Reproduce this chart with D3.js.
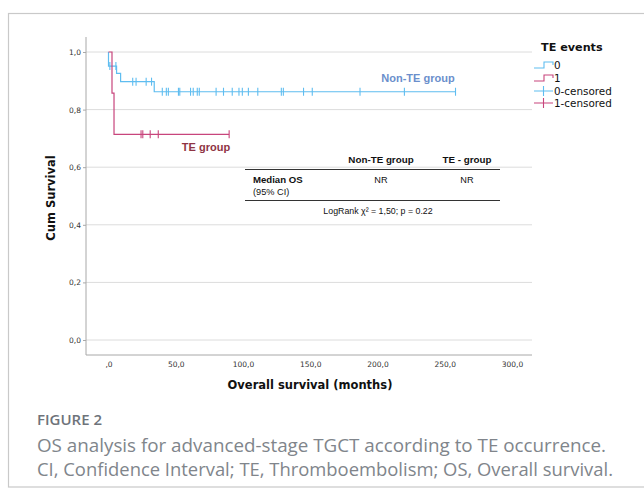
<!DOCTYPE html>
<html><head><meta charset="utf-8">
<script src="https://cdn.jsdelivr.net/npm/d3@7"></script>
<style>body{margin:0;background:#fff}svg{display:block}</style>
</head><body>
<svg id="c" width="644" height="488"></svg>
<script>
// ---- data ----
const yTicks = [0, 0.2, 0.4, 0.6, 0.8, 1.0];
const yTickLabels = ["0,0", "0,2", "0,4", "0,6", "0,8", "1,0"];
const xTicks = [0, 50, 100, 150, 200, 250, 300];
const xTickLabels = [",0", "50,0", "100,0", "150,0", "200,0", "250,0", "300,0"];

const nonTEEventTimes = [0, 6, 9, 34];
const nonTEEventSurv = [0.951, 0.926, 0.897, 0.862];
const nonTEEndTime = 258;
const nonTECensorTimes = [1, 5.5, 18, 20.5, 28, 32, 40, 43, 44.5, 52, 53, 61, 63, 66, 67.5, 80, 85.5, 92, 97, 99.5, 104, 111, 128.5, 130, 145, 151.5, 187, 220, 258];

const teEventTimes = [2.6, 4.1];
const teEventSurv = [0.857, 0.714];
const teEndTime = 89.7;
const teCensorTimes = [24.2, 25.5, 31, 37, 89.7];

const legendLabels = ["0", "1", "0-censored", "1-censored"];
const tableHeader = ["Non-TE group", "TE - group"];
const tableValues = ["NR", "NR"];

const colNonTE = "#5fbdf0", colTE = "#c8457c";

(function () {
const svg = d3.select("#c");
// outer frame
svg.append("rect").attr("x", 8.5).attr("y", 13.5).attr("width", 700).attr("height", 473.5)
  .attr("fill", "none").attr("stroke", "#c9c9c9").attr("stroke-width", 1.2);

const x = d3.scaleLinear().domain([0, 300]).range([108.5, 512]);
const y = d3.scaleLinear().domain([0, 1]).range([340, 52]);
const pLeft = 86, pRight = 532, pBottom = 355, pTop = 37;

// gridlines
svg.append("g").selectAll("line").data(yTicks).join("line")
  .attr("x1", pLeft).attr("x2", pRight).attr("y1", d => y(d)).attr("y2", d => y(d))
  .attr("stroke", "#dcdcdc").attr("stroke-width", 1);

// axes lines
svg.append("line").attr("x1", pLeft).attr("x2", pLeft).attr("y1", pTop).attr("y2", pBottom).attr("stroke", "#a8a8a8");
svg.append("line").attr("x1", pLeft).attr("x2", pRight).attr("y1", pBottom).attr("y2", pBottom).attr("stroke", "#a8a8a8");

// y tick labels
const yAxis = d3.axisLeft(y).tickValues(yTicks).tickFormat((d, i) => yTickLabels[i]).tickSize(3).tickPadding(2);
const gy = svg.append("g").attr("transform", `translate(${pLeft},0)`).call(yAxis);
gy.select(".domain").remove();
gy.selectAll("line").attr("stroke", "#a8a8a8");
gy.selectAll("text").attr("font-family", "DejaVu Sans").attr("font-size", 7.5).attr("fill", "#333");

const xAxis = d3.axisBottom(x).tickValues(xTicks).tickFormat((d, i) => xTickLabels[i]).tickSize(0).tickPadding(7);
const gx = svg.append("g").attr("transform", `translate(0,${pBottom})`).call(xAxis);
gx.select(".domain").remove();
gx.selectAll("text").attr("font-family", "DejaVu Sans").attr("font-size", 7.5).attr("fill", "#333");

// axis titles
svg.append("text").attr("x", 310).attr("y", 389).attr("text-anchor", "middle")
  .attr("font-family", "DejaVu Sans").attr("font-weight", "bold").attr("font-size", 11.5).attr("fill", "#111")
  .text("Overall survival (months)");
svg.append("text").attr("transform", "translate(55,198) rotate(-90)").attr("text-anchor", "middle")
  .attr("font-family", "DejaVu Sans").attr("font-weight", "bold").attr("font-size", 11.5).attr("fill", "#111")
  .text("Cum Survival");

function stepPts(times, surv, end) {
  const pts = [[0, 1]];
  let s = 1;
  times.forEach((t, i) => { pts.push([t, s]); s = surv[i]; pts.push([t, s]); });
  pts.push([end, s]);
  return pts;
}
function survAt(times, surv, t) {
  let s = 1;
  times.forEach((tt, i) => { if (tt <= t) s = surv[i]; });
  return s;
}
const line = d3.line().x(d => x(d[0])).y(d => y(d[1]));

function drawGroup(times, surv, end, censors, col) {
  svg.append("path").attr("d", line(stepPts(times, surv, end)))
    .attr("fill", "none").attr("stroke", col).attr("stroke-width", 1.2);
  svg.append("g").selectAll("line").data(censors).join("line")
    .attr("x1", d => x(d)).attr("x2", d => x(d))
    .attr("y1", d => y(survAt(times, surv, d)) - 4).attr("y2", d => y(survAt(times, surv, d)) + 4)
    .attr("stroke", col).attr("stroke-width", 1.1);
}
drawGroup(nonTEEventTimes, nonTEEventSurv, nonTEEndTime, nonTECensorTimes, colNonTE);
drawGroup(teEventTimes, teEventSurv, teEndTime, teCensorTimes, colTE);

// group labels
svg.append("text").attr("x", 418).attr("y", 82).attr("text-anchor", "middle")
  .attr("font-family", "Liberation Sans").attr("font-weight", "bold").attr("font-size", 11).attr("fill", "#6b8fcc")
  .text("Non-TE group");
svg.append("text").attr("x", 206).attr("y", 151).attr("text-anchor", "middle")
  .attr("font-family", "Liberation Sans").attr("font-weight", "bold").attr("font-size", 11).attr("fill", "#8f3444")
  .text("TE group");

// table
const tf = "Liberation Sans";
const colX = [381, 467];
svg.append("g").selectAll("text").data(tableHeader).join("text")
  .attr("x", (d, i) => colX[i]).attr("y", 162.5).attr("text-anchor", "middle")
  .attr("font-family", tf).attr("font-weight", "bold").attr("font-size", 9.8).attr("fill", "#111").text(d => d);
svg.append("line").attr("x1", 245).attr("x2", 500).attr("y1", 169.5).attr("y2", 169.5).attr("stroke", "#333").attr("stroke-width", 1);
svg.append("text").attr("x", 253).attr("y", 182.5).attr("font-family", tf).attr("font-weight", "bold").attr("font-size", 9.6).attr("fill", "#111").text("Median OS");
svg.append("text").attr("x", 253).attr("y", 194.5).attr("font-family", tf).attr("font-size", 9.2).attr("fill", "#111").text("(95% CI)");
svg.append("g").selectAll("text").data(tableValues).join("text")
  .attr("x", (d, i) => colX[i]).attr("y", 182.5).attr("text-anchor", "middle")
  .attr("font-family", tf).attr("font-size", 9.2).attr("fill", "#111").text(d => d);
svg.append("line").attr("x1", 245).attr("x2", 500).attr("y1", 200.5).attr("y2", 200.5).attr("stroke", "#333").attr("stroke-width", 1);
svg.append("text").attr("x", 378).attr("y", 214).attr("text-anchor", "middle")
  .attr("font-family", tf).attr("font-size", 8.8).attr("fill", "#111").text("LogRank χ² = 1,50; p = 0.22");

// legend
svg.append("text").attr("x", 541).attr("y", 51).attr("font-family", "DejaVu Sans").attr("font-weight", "bold")
  .attr("font-size", 11.2).attr("fill", "#111").text("TE events");
const legY = [65, 78, 91, 103];
const legCol = [colNonTE, colTE, colNonTE, colTE];
const lg = svg.append("g");
legendLabels.forEach((lab, i) => {
  const yy = legY[i], c = legCol[i];
  if (i < 2) {
    lg.append("path").attr("d", `M534,${yy + 3}H544V${yy - 3}H553V${yy}`).attr("fill", "none").attr("stroke", c).attr("stroke-width", 1.1);
  } else {
    lg.append("path").attr("d", `M534,${yy}H553M543.5,${yy - 5}V${yy + 5}`).attr("fill", "none").attr("stroke", c).attr("stroke-width", 1.1);
  }
  lg.append("text").attr("x", 554).attr("y", yy + 3.5).attr("font-family", "DejaVu Sans").attr("font-size", 10.4).attr("fill", "#111").text(lab);
});

// caption
svg.append("text").attr("x", 37).attr("y", 425).attr("font-family", "Open Sans").attr("font-weight", "600")
  .attr("font-size", 14.5).attr("fill", "#6e737a").attr("textLength", 65).attr("lengthAdjust", "spacingAndGlyphs").text("FIGURE 2");
svg.append("text").attr("x", 37).attr("y", 452).attr("font-family", "Open Sans").attr("font-size", 17.5)
  .attr("fill", "#80858b").attr("textLength", 569).attr("lengthAdjust", "spacingAndGlyphs")
  .text("OS analysis for advanced-stage TGCT according to TE occurrence.");
svg.append("text").attr("x", 37).attr("y", 476).attr("font-family", "Open Sans").attr("font-size", 17.5)
  .attr("fill", "#80858b").attr("textLength", 576).attr("lengthAdjust", "spacingAndGlyphs")
  .text("CI, Confidence Interval; TE, Thromboembolism; OS, Overall survival.");
})();
</script>
</body></html>
